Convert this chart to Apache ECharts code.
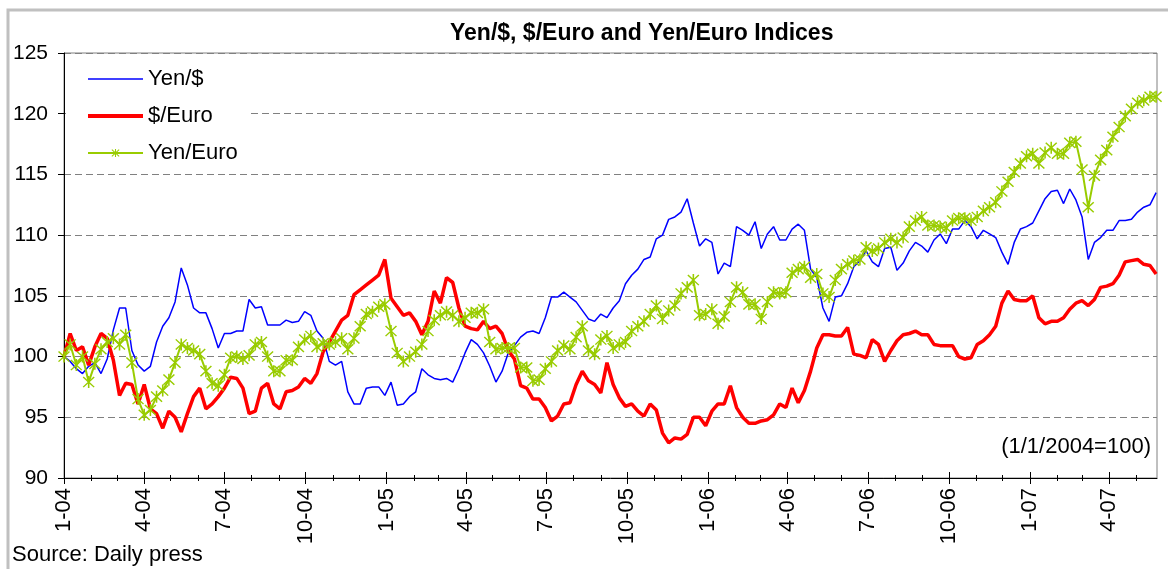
<!DOCTYPE html>
<html lang="en" style="height: 100%">
   <head>
      <meta charset="utf-8">
   </head>
   <body style="height: 100%; margin: 0">
      <div id="container" style="width: 1168px; height: 569px"></div>
      <script type="text/javascript" src="https://fastly.jsdelivr.net/npm/echarts@6/dist/echarts.min.js"></script>
      <script type="text/javascript">
// weekly readings, first one on 1/1/2004, one every 7 days
var startDay = '2004-01-01';
var stepDays = 7;
var lastDay = 1240;

var quarterLabels = ['1-04', '4-04', '7-04', '10-04', '1-05', '4-05', '7-05', '10-05',
  '1-06', '4-06', '7-06', '10-06', '1-07', '4-07'];
var yTicks = [90, 95, 100, 105, 110, 115, 120, 125];

var yenUsd = [
  100.0, 99.6, 99.0, 98.6, 99.2, 99.5, 98.6, 99.8, 102.2, 104.0,
  104.0, 100.5, 99.3, 98.8, 99.2, 101.2, 102.5, 103.2, 104.5, 107.3,
  105.9, 104.0, 103.6, 103.6, 102.3, 100.7, 101.9, 101.9, 102.1, 102.1,
  104.7, 104.0, 104.1, 102.6, 102.6, 102.6, 103.0, 102.8, 102.9, 103.7,
  103.4, 102.1, 101.5, 99.6, 99.3, 99.6, 97.1, 96.1, 96.1, 97.4,
  97.5, 97.5, 96.8, 97.9, 96.0, 96.1, 96.7, 97.1, 99.0, 98.5,
  98.2, 98.1, 98.2, 97.9, 99.0, 100.3, 101.4, 101.0, 100.3, 99.2,
  97.9, 98.8, 100.3, 100.9, 101.6, 102.0, 102.1, 101.9, 103.2, 104.9,
  104.9, 105.3, 104.9, 104.5, 103.8, 103.1, 102.9, 103.5, 103.2, 104.0,
  104.6, 106.0, 106.7, 107.2, 108.0, 108.2, 109.7, 110.0, 111.3, 111.5,
  111.9, 113.0, 111.0, 109.1, 109.7, 109.4, 106.8, 107.7, 107.4, 110.7,
  110.4, 110.0, 111.1, 108.9, 110.1, 110.7, 109.6, 109.6, 110.5, 110.9,
  110.4, 107.2, 106.5, 104.0, 102.9, 104.9, 105.0, 106.0, 107.4, 107.9,
  108.7, 107.8, 107.4, 108.9, 109.0, 107.1, 107.7, 108.7, 109.4, 109.1,
  108.6, 109.6, 110.1, 109.3, 110.5, 110.5, 111.2, 110.7, 109.7, 110.4,
  110.1, 109.8, 108.6, 107.6, 109.4, 110.5, 110.7, 111.0, 112.0, 113.0,
  113.6, 113.7, 112.6, 113.8, 112.9, 111.5, 108.0, 109.4, 109.8, 110.4,
  110.4, 111.2, 111.2, 111.3, 111.9, 112.3, 112.5, 113.5
];

var usdEuro = [
  100.0, 101.9, 100.5, 100.8, 99.3, 100.8, 101.9, 101.5, 99.7, 96.8,
  97.8, 97.7, 96.1, 97.7, 95.7, 95.3, 94.1, 95.5, 95.0, 93.8,
  95.3, 96.7, 97.4, 95.7, 96.1, 96.7, 97.4, 98.3, 98.2, 97.4,
  95.3, 95.5, 97.4, 97.8, 96.1, 95.7, 97.1, 97.2, 97.5, 98.2,
  97.8, 98.6, 100.4, 101.2, 102.1, 103.0, 103.4, 105.1, 105.5, 105.9,
  106.3, 106.7, 108.0, 104.8, 104.1, 103.4, 103.6, 102.9, 101.8, 102.9,
  105.4, 104.4, 106.5, 106.1, 104.0, 102.5, 102.3, 102.2, 102.9, 102.3,
  102.5, 101.9, 100.5, 99.8, 97.6, 97.4, 96.5, 96.5, 95.8, 94.7,
  95.1, 96.1, 96.2, 97.7, 98.8, 98.0, 97.7, 97.0, 99.5, 97.7,
  96.6, 95.9, 96.1, 95.5, 95.1, 96.1, 95.6, 93.7, 92.9, 93.3,
  93.2, 93.6, 95.0, 95.0, 94.3, 95.5, 96.1, 96.1, 97.6, 95.8,
  95.0, 94.5, 94.5, 94.7, 94.8, 95.2, 96.1, 95.8, 97.4, 96.2,
  97.2, 98.8, 100.7, 101.8, 101.8, 101.7, 101.7, 102.4, 100.2, 100.1,
  99.9, 101.4, 101.0, 99.6, 100.5, 101.3, 101.8, 101.9, 102.1, 101.8,
  101.8, 101.0, 100.9, 100.9, 100.9, 100.0, 99.8, 99.9, 101.0, 101.3,
  101.8, 102.5, 104.4, 105.4, 104.7, 104.6, 104.6, 105.0, 103.2, 102.7,
  102.9, 102.9, 103.2, 103.9, 104.4, 104.6, 104.2, 104.7, 105.7, 105.8,
  106.0, 106.7, 107.8, 107.9, 108.0, 107.6, 107.5, 106.8
];

var yenEuro = [
  100.0, 101.0, 99.3, 100.0, 97.9, 99.4, 100.6, 101.2, 101.5, 101.0,
  101.8, 99.5, 96.5, 95.2, 95.6, 96.7, 97.2, 98.1, 99.5, 101.0,
  100.7, 100.5, 100.2, 98.8, 97.8, 97.6, 98.5, 99.9, 100.0, 99.8,
  100.1, 101.0, 101.2, 100.0, 98.8, 98.8, 99.7, 99.7, 100.8, 101.4,
  101.7, 100.8, 101.1, 101.0, 101.2, 101.5, 100.6, 101.5, 102.5, 103.5,
  103.7, 104.1, 104.3, 102.1, 100.3, 99.6, 100.0, 100.4, 101.0, 102.1,
  103.0, 103.4, 103.7, 103.4, 102.9, 103.2, 103.6, 103.6, 103.9, 101.2,
  100.6, 100.7, 100.7, 100.7, 99.1, 99.1, 98.0, 98.1, 99.0, 99.6,
  100.5, 100.9, 100.6, 101.6, 102.5, 100.5, 100.2, 101.4, 101.7, 100.7,
  101.0, 101.2, 102.1, 102.5, 102.9, 103.5, 104.2, 103.1, 103.8, 104.2,
  105.2, 105.7, 106.3, 103.4, 103.5, 103.9, 102.7, 103.3, 104.5, 105.7,
  105.3, 104.3, 104.3, 103.1, 104.5, 105.3, 105.2, 105.3, 106.9, 107.2,
  107.4, 106.5, 106.8, 105.2, 104.9, 106.3, 107.2, 107.6, 107.9, 108.0,
  109.0, 108.7, 108.9, 109.4, 109.7, 109.4, 109.8, 110.7, 111.2, 111.5,
  110.8, 110.8, 110.7, 110.6, 111.2, 111.4, 111.4, 111.2, 111.5, 112.0,
  112.3, 112.7, 113.6, 114.4, 115.2, 115.9, 116.5, 116.7, 115.9, 116.8,
  117.2, 116.7, 116.7, 117.6, 117.7, 115.4, 112.3, 114.9, 116.2, 117.0,
  118.1, 118.9, 119.8, 120.4, 120.9, 121.1, 121.4, 121.4
];

var FONT = 'Arial, "Liberation Sans", sans-serif';
var DAY = 86400000;
var base = Date.UTC(2004, 0, 1);

// day offsets of the quarter labels and of every month start
var quarterDays = quarterLabels.map(function (s) {
  var p = s.split('-');
  return Math.round((Date.UTC(2000 + (+p[1]), +p[0] - 1, 1) - base) / DAY);
});
var monthDays = [];
for (var y = 2004; y <= 2007; y++) {
  for (var m = 0; m < 12; m++) {
    var d = Math.round((Date.UTC(y, m, 1) - base) / DAY);
    if (d <= lastDay) monthDays.push(d);
  }
}

function toPairs(arr) {
  return arr.map(function (v, i) { return [i * stepDays, v]; });
}

var asterisk = 'path://M4.4,0L5.6,0L5.6,10L4.4,10Z' +
  'M0.4,1.2L1.2,0.4L9.6,8.8L8.8,9.6Z' +
  'M8.8,0.4L9.6,1.2L1.2,9.6L0.4,8.8Z';

var dom = document.getElementById('container');
var myChart = echarts.init(dom, null, { renderer: 'canvas' });

function tickAxis(values, len, inside, showLine, showLabel) {
  return {
    type: 'value',
    position: 'bottom',
    min: 0,
    max: lastDay,
    axisLine: { show: showLine, lineStyle: { color: '#000', width: 1 } },
    axisTick: {
      show: true, inside: inside, length: len, customValues: values,
      lineStyle: { color: '#000', width: 1 }
    },
    axisLabel: {
      show: showLabel,
      customValues: quarterDays,
      rotate: 90,
      margin: 10,
      fontSize: 22,
      fontFamily: FONT,
      color: '#000',
      formatter: function (v) {
        var i = quarterDays.indexOf(Math.round(v));
        return i >= 0 ? quarterLabels[i] : '';
      }
    },
    splitLine: { show: false }
  };
}

var option = {
  animation: false,
  backgroundColor: '#fff',
  title: {
    text: 'Yen/$, $/Euro and Yen/Euro Indices',
    left: 445,
    top: 17,
    textStyle: { fontSize: 23, fontWeight: 'bold', fontFamily: FONT, color: '#000' }
  },
  legend: {
    orient: 'vertical',
    left: 66,
    top: 58,
    padding: [10, 13, 8, 20],
    backgroundColor: '#fff',
    itemWidth: 55,
    itemHeight: 10,
    itemGap: 15,
    textStyle: { fontSize: 22, fontFamily: FONT, color: '#000' },
    data: [
      { name: 'Yen/$', itemStyle: { opacity: 0 }, lineStyle: { width: 1.5 } },
      { name: '$/Euro', itemStyle: { opacity: 0 }, lineStyle: { width: 4 } },
      { name: 'Yen/Euro', lineStyle: { width: 2 } }
    ]
  },
  grid: {
    left: 64,
    right: 11,
    top: 53,
    bottom: 91,
    show: true,
    borderColor: '#808080',
    borderWidth: 1
  },
  xAxis: [
    tickAxis(quarterDays, 6, false, true, true),
    tickAxis(quarterDays, 6, true, false, false),
    tickAxis(monthDays, 3, false, false, false),
    tickAxis(monthDays, 3, true, false, false)
  ],
  yAxis: {
    type: 'value',
    min: yTicks[0],
    max: yTicks[yTicks.length - 1],
    interval: 5,
    axisLine: { show: true, lineStyle: { color: '#000', width: 1 } },
    axisTick: { show: true, length: 6, lineStyle: { color: '#000' } },
    axisLabel: { fontSize: 21, fontFamily: FONT, color: '#000', margin: 16 },
    splitLine: { show: true, lineStyle: { color: '#808080', width: 1, type: [7, 4] } }
  },
  series: [
    {
      name: 'Yen/$',
      type: 'line',
      data: toPairs(yenUsd),
      symbol: 'none',
      color: '#0000FF',
      lineStyle: { width: 1.5, color: '#0000FF' }
    },
    {
      name: '$/Euro',
      type: 'line',
      data: toPairs(usdEuro),
      symbol: 'none',
      color: '#FF0000',
      lineStyle: { width: 3.5, color: '#FF0000' }
    },
    {
      name: 'Yen/Euro',
      type: 'line',
      data: toPairs(yenEuro),
      symbol: asterisk,
      symbolSize: 12,
      showSymbol: true,
      color: '#99CC00',
      itemStyle: { color: '#99CC00' },
      lineStyle: { width: 2, color: '#99CC00' }
    }
  ],
  graphic: [
    {
      type: 'rect',
      silent: true,
      shape: { x: 8, y: 10, width: 1175, height: 575 },
      style: { fill: 'none', stroke: '#c0c0c0', lineWidth: 3 }
    },
    {
      type: 'text',
      x: 1151,
      y: 447,
      style: {
        text: '(1/1/2004=100)', fontSize: 22, fontFamily: FONT, fill: '#000',
        textAlign: 'right', textVerticalAlign: 'middle'
      }
    },
    {
      type: 'text',
      x: 12,
      y: 555,
      style: {
        text: 'Source: Daily press', fontSize: 22, fontFamily: FONT, fill: '#000',
        textAlign: 'left', textVerticalAlign: 'middle'
      }
    }
  ]
};

myChart.setOption(option);
window.addEventListener('resize', myChart.resize);
      </script>
   </body>
</html>
